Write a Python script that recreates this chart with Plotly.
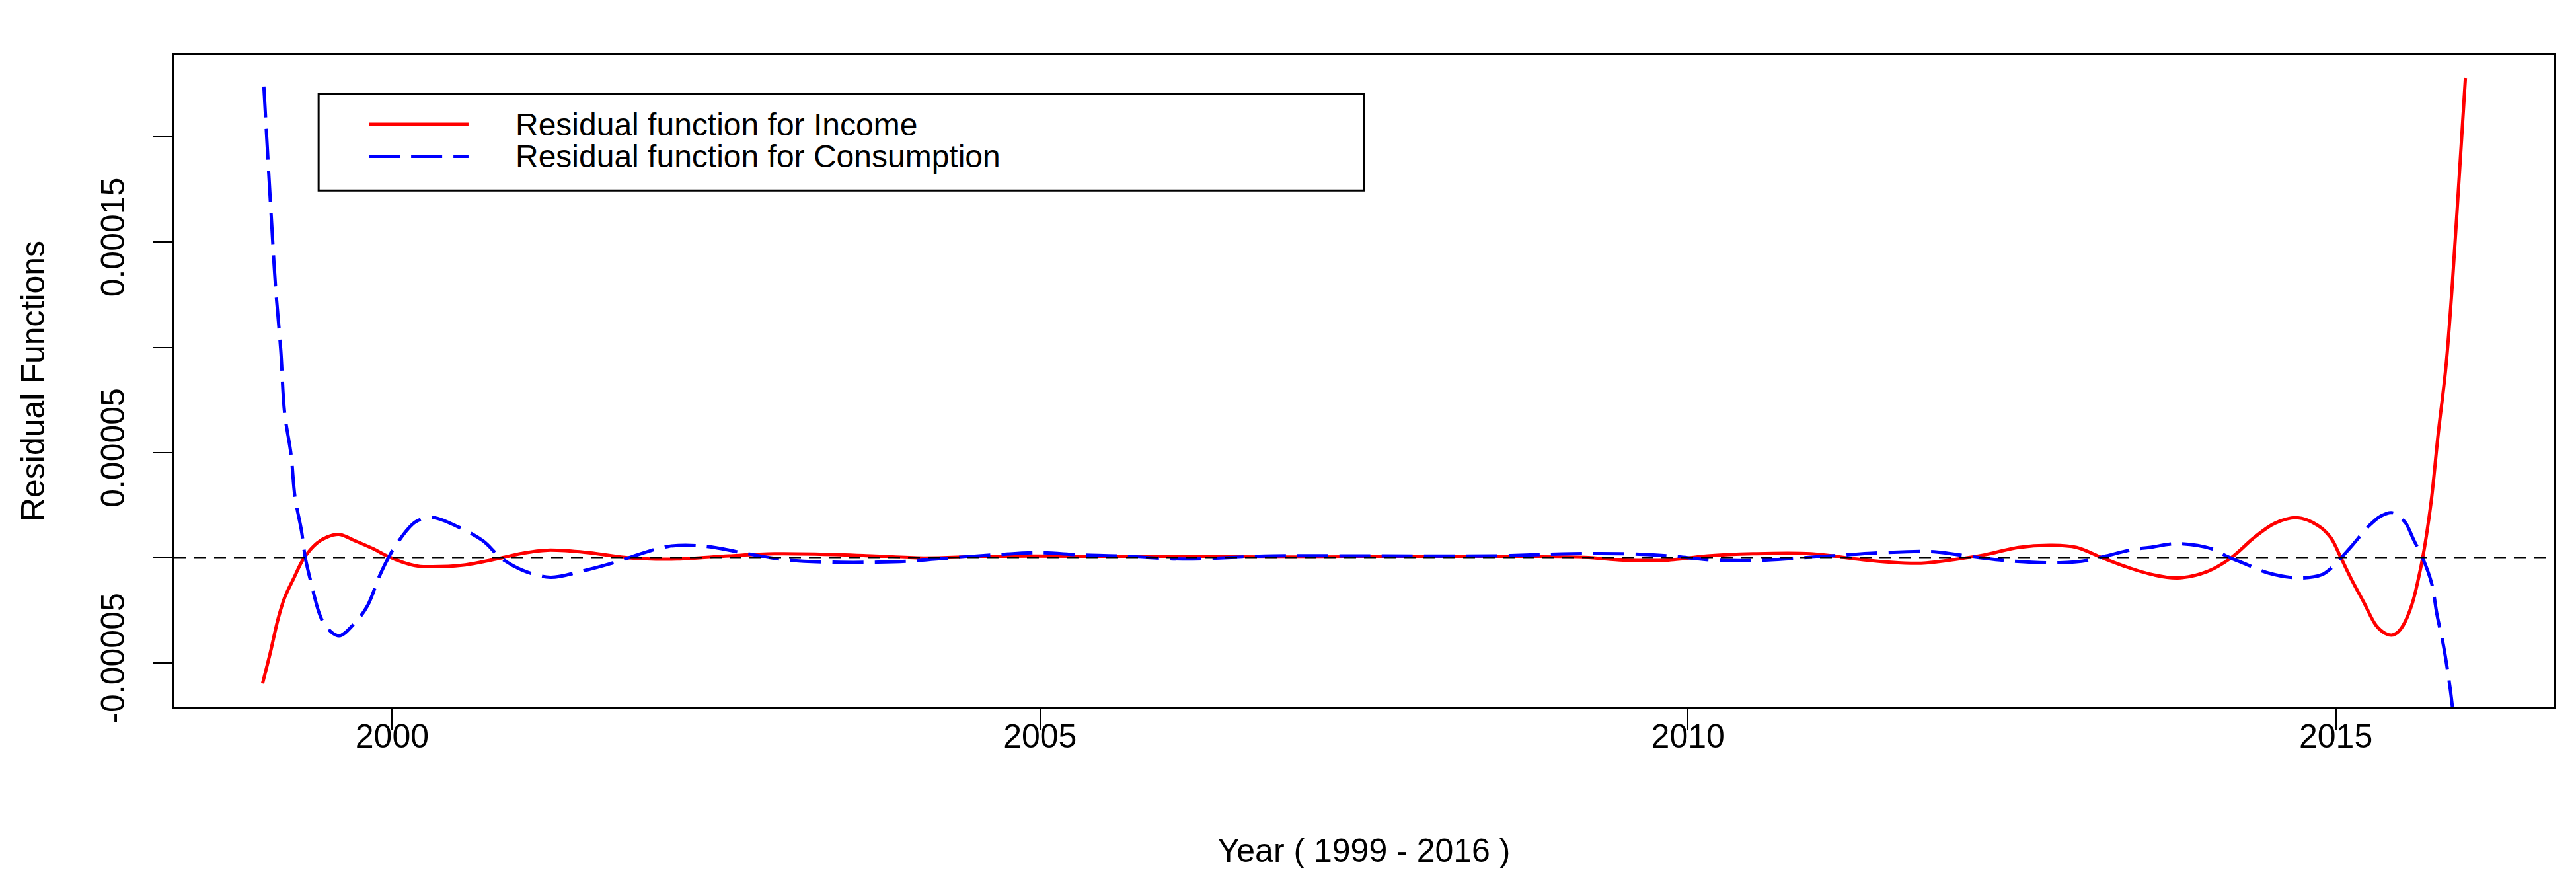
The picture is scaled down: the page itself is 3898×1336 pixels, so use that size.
import plotly.graph_objects as go

# ---------------- data ----------------
income_name = "Residual function for Income"
consumption_name = "Residual function for Consumption"

income_years = [1999.00, 1999.06, 1999.12, 1999.17, 1999.24, 1999.32, 1999.42, 1999.50, 1999.59,
                1999.72, 1999.85, 1999.96, 2000.08, 2000.20, 2000.31, 2000.54, 2000.70, 2000.84,
                2001.00, 2001.20, 2001.52, 2001.84, 2002.20, 2002.60, 2002.95, 2003.30, 2003.70,
                2004.10, 2004.60, 2005.50, 2006.50, 2007.50, 2008.50, 2009.20, 2009.50, 2009.85,
                2010.15, 2010.50, 2010.95, 2011.30, 2011.55, 2011.80, 2012.06, 2012.29, 2012.55,
                2012.81, 2013.00, 2013.20, 2013.39, 2013.59, 2013.78, 2014.01, 2014.19, 2014.37,
                2014.53, 2014.70, 2014.86, 2014.96, 2015.04, 2015.12, 2015.22, 2015.31, 2015.38,
                2015.43, 2015.47, 2015.52, 2015.59, 2015.64, 2015.67, 2015.70, 2015.74, 2015.79,
                2015.85, 2015.90, 2015.95, 2016.00]
income_resid_e5 = [-5.96, -4.49, -2.89, -1.89, -0.98, 0.00, 0.71, 1.00, 1.12,
                   0.80, 0.45, 0.10, -0.20, -0.39, -0.42, -0.35, -0.18, 0.00,
                   0.22, 0.37, 0.25, 0.00, -0.05, 0.10, 0.20, 0.18, 0.10,
                   0.00, 0.08, 0.08, 0.05, 0.05, 0.05, 0.03, -0.10, -0.10,
                   0.10, 0.20, 0.20, -0.05, -0.20, -0.25, -0.07, 0.15, 0.50,
                   0.60, 0.50, 0.00, -0.44, -0.80, -0.95, -0.64, 0.00, 0.97,
                   1.65, 1.91, 1.55, 0.97, 0.00, -1.01, -2.16, -3.20, -3.58,
                   -3.67, -3.57, -3.20, -2.16, -0.91, 0.00, 1.10, 2.90, 5.90,
                   9.10, 13.10, 17.90, 22.80]

consumption_years = [1999.01, 1999.04, 1999.07, 1999.10, 1999.14, 1999.17, 1999.22, 1999.25, 1999.30,
                     1999.33, 1999.37, 1999.44, 1999.49, 1999.59, 1999.70, 1999.81, 1999.90, 1999.97,
                     2000.04, 2000.18, 2000.31, 2000.49, 2000.70, 2000.84, 2001.00, 2001.22, 2001.45,
                     2001.68, 2001.82, 2002.13, 2002.43, 2002.70, 2003.05, 2003.40, 2003.75, 2004.00,
                     2004.20, 2004.65, 2005.00, 2005.30, 2005.60, 2006.10, 2006.80, 2007.50, 2008.50,
                     2009.10, 2009.50, 2009.85, 2010.20, 2010.60, 2011.10, 2011.50, 2011.90, 2012.03,
                     2012.29, 2012.52, 2012.87, 2013.10, 2013.23, 2013.43, 2013.56, 2013.78, 2014.04,
                     2014.17, 2014.30, 2014.47, 2014.71, 2014.89, 2014.97, 2015.04, 2015.12, 2015.26,
                     2015.35, 2015.43, 2015.49, 2015.54, 2015.60, 2015.67, 2015.74, 2015.78, 2015.83,
                     2015.88, 2015.90, 2015.95, 2016.00]
consumption_resid_e5 = [22.40, 19.10, 15.90, 12.90, 9.90, 6.90, 4.90, 2.90, 1.30,
                        0.00, -1.07, -2.67, -3.27, -3.70, -3.17, -2.27, -0.89, 0.00,
                        0.71, 1.71, 1.92, 1.53, 0.82, 0.00, -0.57, -0.92, -0.65,
                        -0.28, 0.00, 0.55, 0.55, 0.25, -0.10, -0.20, -0.20, -0.15,
                        -0.05, 0.15, 0.25, 0.15, 0.10, -0.05, 0.10, 0.10, 0.10,
                        0.20, 0.20, 0.10, -0.10, -0.10, 0.10, 0.25, 0.30, 0.20,
                        -0.02, -0.16, -0.23, -0.10, 0.10, 0.40, 0.50, 0.68, 0.44,
                        0.05, -0.28, -0.70, -0.95, -0.80, -0.45, 0.00, 0.55, 1.55,
                        2.00, 2.15, 1.95, 1.65, 0.87, 0.00, -1.22, -2.67, -4.14,
                        -6.10, -7.10, -10.00, -13.00]

scale = 1e-5
income_resid = [v * scale for v in income_resid_e5]
consumption_resid = [v * scale for v in consumption_resid_e5]

x_ticks = [2000, 2005, 2010, 2015]
y_ticks = [-0.00005, 0.0, 0.00005, 0.0001, 0.00015, 0.0002]
y_tick_text = ["-0.00005", "", "0.00005", "", "0.00015", ""]

x_title = "Year ( 1999 - 2016 )"
y_title = "Residual Functions"

# ---------------- figure ----------------
FONT = "Liberation Sans, Arial, sans-serif"
FS = 50

fig = go.Figure()
fig.add_trace(go.Scatter(x=income_years, y=income_resid, mode="lines", name=income_name,
                         line=dict(color="#FF0000", width=5, shape="spline", smoothing=1.0),
                         showlegend=False))
fig.add_trace(go.Scatter(x=consumption_years, y=consumption_resid, mode="lines", name=consumption_name,
                         line=dict(color="#0000FF", width=5, dash="47px,17px", shape="spline", smoothing=1.0),
                         showlegend=False))

# zero reference line
fig.add_shape(type="line", xref="paper", x0=0, x1=1, yref="y", y0=0, y1=0,
              line=dict(color="black", width=2.5, dash="18px,12px"), layer="above")

# manual legend box (R style)
lx0, lx1, ly0, ly1 = 0.0606, 0.5, 0.7921, 0.9405
fig.add_shape(type="rect", xref="paper", yref="paper", x0=lx0, x1=lx1, y0=ly0, y1=ly1,
              line=dict(color="black", width=3), fillcolor="white", layer="above")
leg_rows = [(income_name, "#FF0000", "solid", 0.8935), (consumption_name, "#0000FF", "47px,17px", 0.8445)]
for name, col, dsh, yy in leg_rows:
    fig.add_shape(type="line", xref="paper", yref="paper", x0=0.0817, x1=0.1236, y0=yy, y1=yy,
                  line=dict(color=col, width=5, dash=dsh), layer="above")
    fig.add_annotation(xref="paper", yref="paper", x=0.1428, y=yy, text=name, showarrow=False,
                       xanchor="left", yanchor="middle", font=dict(family=FONT, size=48, color="black"))

fig.update_layout(
    width=3898, height=1336,
    margin=dict(l=256, r=42, t=75, b=274, autoexpand=False),
    paper_bgcolor="white", plot_bgcolor="white",
    font=dict(family=FONT, size=FS, color="black"),
    showlegend=False,
)
fig.update_xaxes(range=[1998.32, 2016.68], tickmode="array", tickvals=x_ticks,
                 ticks="outside", ticklen=31, tickwidth=2, tickcolor="black",
                 showline=True, mirror=True, linecolor="black", linewidth=3,
                 showgrid=False, zeroline=False, ticklabelstandoff=-33,
                 tickfont=dict(family=FONT, size=FS, color="black"),
                 title=dict(text=x_title, font=dict(family=FONT, size=FS, color="black"), standoff=128),
                 automargin=False)
fig.update_yaxes(range=[-0.0000709, 0.000239], tickmode="array", tickvals=y_ticks, ticktext=y_tick_text,
                 ticks="outside", ticklen=29, tickwidth=2, tickcolor="black", tickangle=-90,
                 showline=True, mirror=True, linecolor="black", linewidth=3,
                 showgrid=False, zeroline=False, ticklabelstandoff=24,
                 tickfont=dict(family=FONT, size=FS, color="black"),
                 title=dict(text=y_title, font=dict(family=FONT, size=FS, color="black"), standoff=60),
                 automargin=False)

fig.write_html("out.html")
